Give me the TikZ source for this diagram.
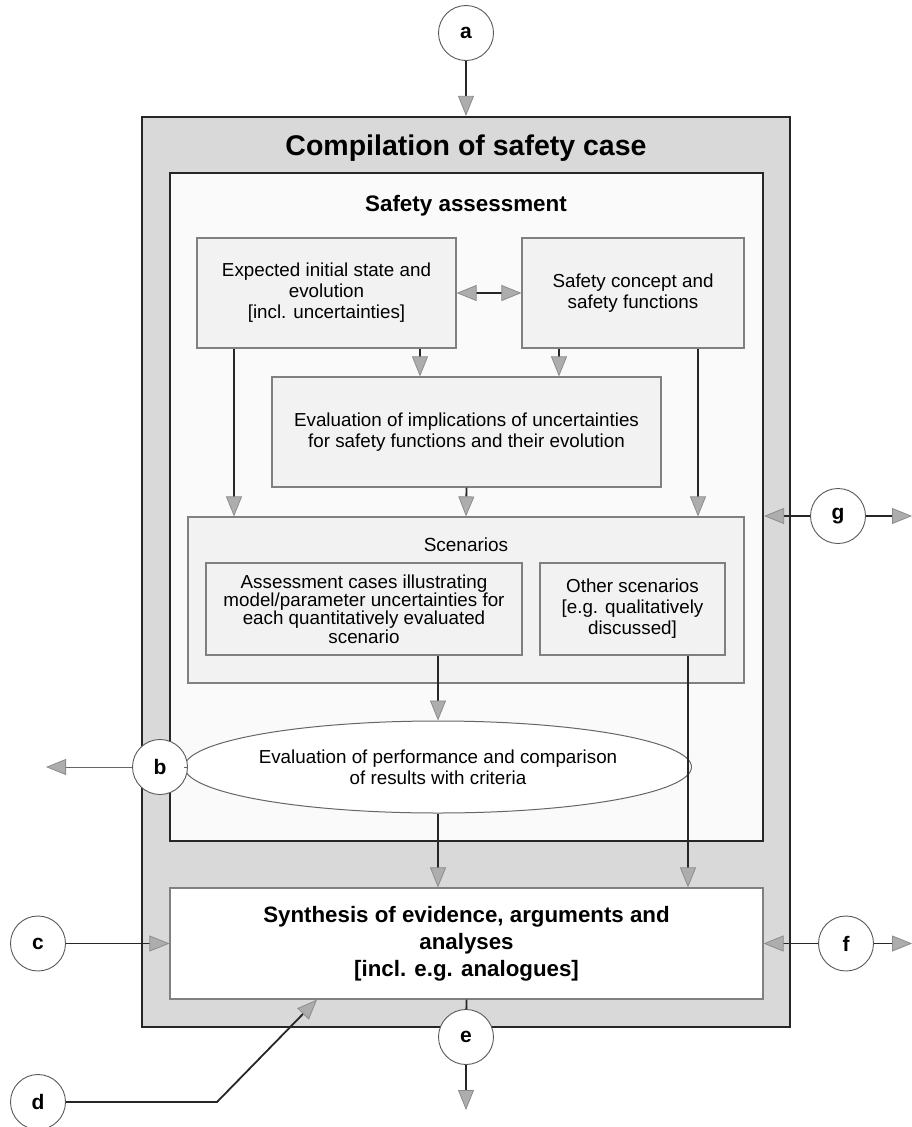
\documentclass[tikz,border=0pt]{standalone}
\usepackage{fontspec}
\setmainfont{Liberation Sans}
\usetikzlibrary{arrows.meta,shapes.geometric}

\begin{document}
\begin{tikzpicture}[x=1pt,y=-1pt,
	>={Triangle[length=20pt,width=16pt,color=tipgray,fill=tipfill,line width=0.8pt]},
	box/.style={draw=edgegray,line width=1.2pt,fill=boxgray,inner sep=0pt,align=center,
		font=\fontsize{18.8}{21}\selectfont},
	frame/.style={draw=black!85,line width=2.2pt,inner sep=0pt},
	letter/.style={circle,draw=black!65,line width=0.9pt,fill=white,minimum size=55pt,
		inner sep=0pt,font=\fontsize{21}{21}\selectfont\bfseries},
	link/.style={line width=1.8pt,draw=black!85}]

\definecolor{casegray}{gray}{0.85}
\definecolor{boxgray}{gray}{0.95}
\definecolor{edgegray}{gray}{0.5}
\definecolor{tipgray}{gray}{0.55}
\definecolor{tipfill}{gray}{0.68}

\useasboundingbox (0,0) rectangle (912,1127);

% frames
\node[frame,fill=casegray,minimum width=648pt,minimum height=910pt] (case) at (466,572) {};
\node[frame,fill=black!2,minimum width=593pt,minimum height=668pt] (assess) at (466.5,507) {};
\node[font=\fontsize{28.5}{30}\selectfont\bfseries] (title) at (466,148) {Compilation of safety case};
\node[font=\fontsize{22.4}{24}\selectfont\bfseries] (satitle) at (466,206) {Safety assessment};

% boxes
\node[box,minimum width=259pt,minimum height=110pt] (expect) at (326.5,293)
	{Expected initial state and\\evolution\\{[}incl. uncertainties{]}};
\node[box,minimum width=222pt,minimum height=110pt] (concept) at (633,293)
	{Safety concept and\\safety functions};
\node[box,minimum width=389pt,minimum height=110pt] (implic) at (466.5,432)
	{Evaluation of implications of uncertainties\\for safety functions and their evolution};
\node[box,minimum width=556pt,minimum height=166pt] (scen) at (466,600) {};
\node[font=\fontsize{19}{21}\selectfont] (scentitle) at (466,545) {Scenarios};
\node[box,minimum width=316pt,minimum height=92pt,font=\fontsize{18.8}{18.2}\selectfont] (cases) at (364,609)
	{Assessment cases illustrating\\model/parameter uncertainties for\\each quantitatively evaluated\\scenario};
\node[box,minimum width=185pt,minimum height=92pt] (other) at (632.5,609)
	{Other scenarios\\{[}e.g. qualitatively\\discussed{]}};
\node[box,ellipse,fill=white,draw=black!60,line width=1pt,minimum width=464pt,minimum height=92pt] (perf) at (438,767)
	{Evaluation of performance and comparison\\of results with criteria};
\node[box,fill=white,minimum width=593pt,minimum height=111pt,font=\fontsize{22.3}{27}\selectfont\bfseries] (synth) at (466.5,943.5)
	{Synthesis of evidence, arguments and\\analyses\\{[}incl. e.g. analogues{]}};

% letters
\foreach \n/\x/\y in {a/466/33,b/160/767,c/38/943.5,d/38/1102,e/466/1037,f/846/943.5,g/838/516}
	\node[letter] (\n) at (\x,\y) {\n};

\coordinate (expL) at ([xshift=-92.5pt]expect.south);
\coordinate (expR) at ([xshift=93.5pt]expect.south);
\coordinate (conL) at ([xshift=-74pt]concept.south);
\coordinate (conR) at ([xshift=65pt]concept.south);
\coordinate (othOut) at ([xshift=55.5pt]other.south);
\coordinate (dtip) at ([xshift=-149.5pt]synth.south);
\coordinate (dknee) at (217,1102);
\coordinate (btip) at (46,767);
\coordinate (etip) at (466,1110);
\coordinate (ftip) at (912,943.5);
\coordinate (gtip) at (912,516);

% connectors
\draw[link,->] (a) -- (case.north);
\draw[link,<->] (expect.east) -- (concept.west);
\draw[link,->] (expR) -- (expR |- implic.north);
\draw[link,->] (conL) -- (conL |- implic.north);
\draw[link,->] (expL) -- (expL |- scen.north);
\draw[link,->] (conR) -- (conR |- scen.north);
\draw[link,->] (implic.south) -- (scen.north);
\draw[link,->] (perf.north |- cases.south) -- (perf.north);
\draw[link,->] (perf.south) -- (perf.south |- synth.north);
\draw[link,->] (othOut) -- (othOut |- synth.north);

\draw[line width=1pt,draw=black!60] (b) -- (perf.west);
\draw[line width=1pt,draw=black!60,->] (b) -- (btip);
\draw[link,->] (c) -- (synth.west);
\draw[link,->] (d) -- (dknee) -- (dtip);
\draw[link] (synth.south) -- (e);
\draw[link,->] (e) -- (etip);
\draw[link,->] (f) -- (synth.east);
\draw[link,->] (f) -- (ftip);
\draw[link,->] (g) -- (g -| assess.east);
\draw[link,->] (g) -- (gtip);

\end{tikzpicture}
\end{document}
